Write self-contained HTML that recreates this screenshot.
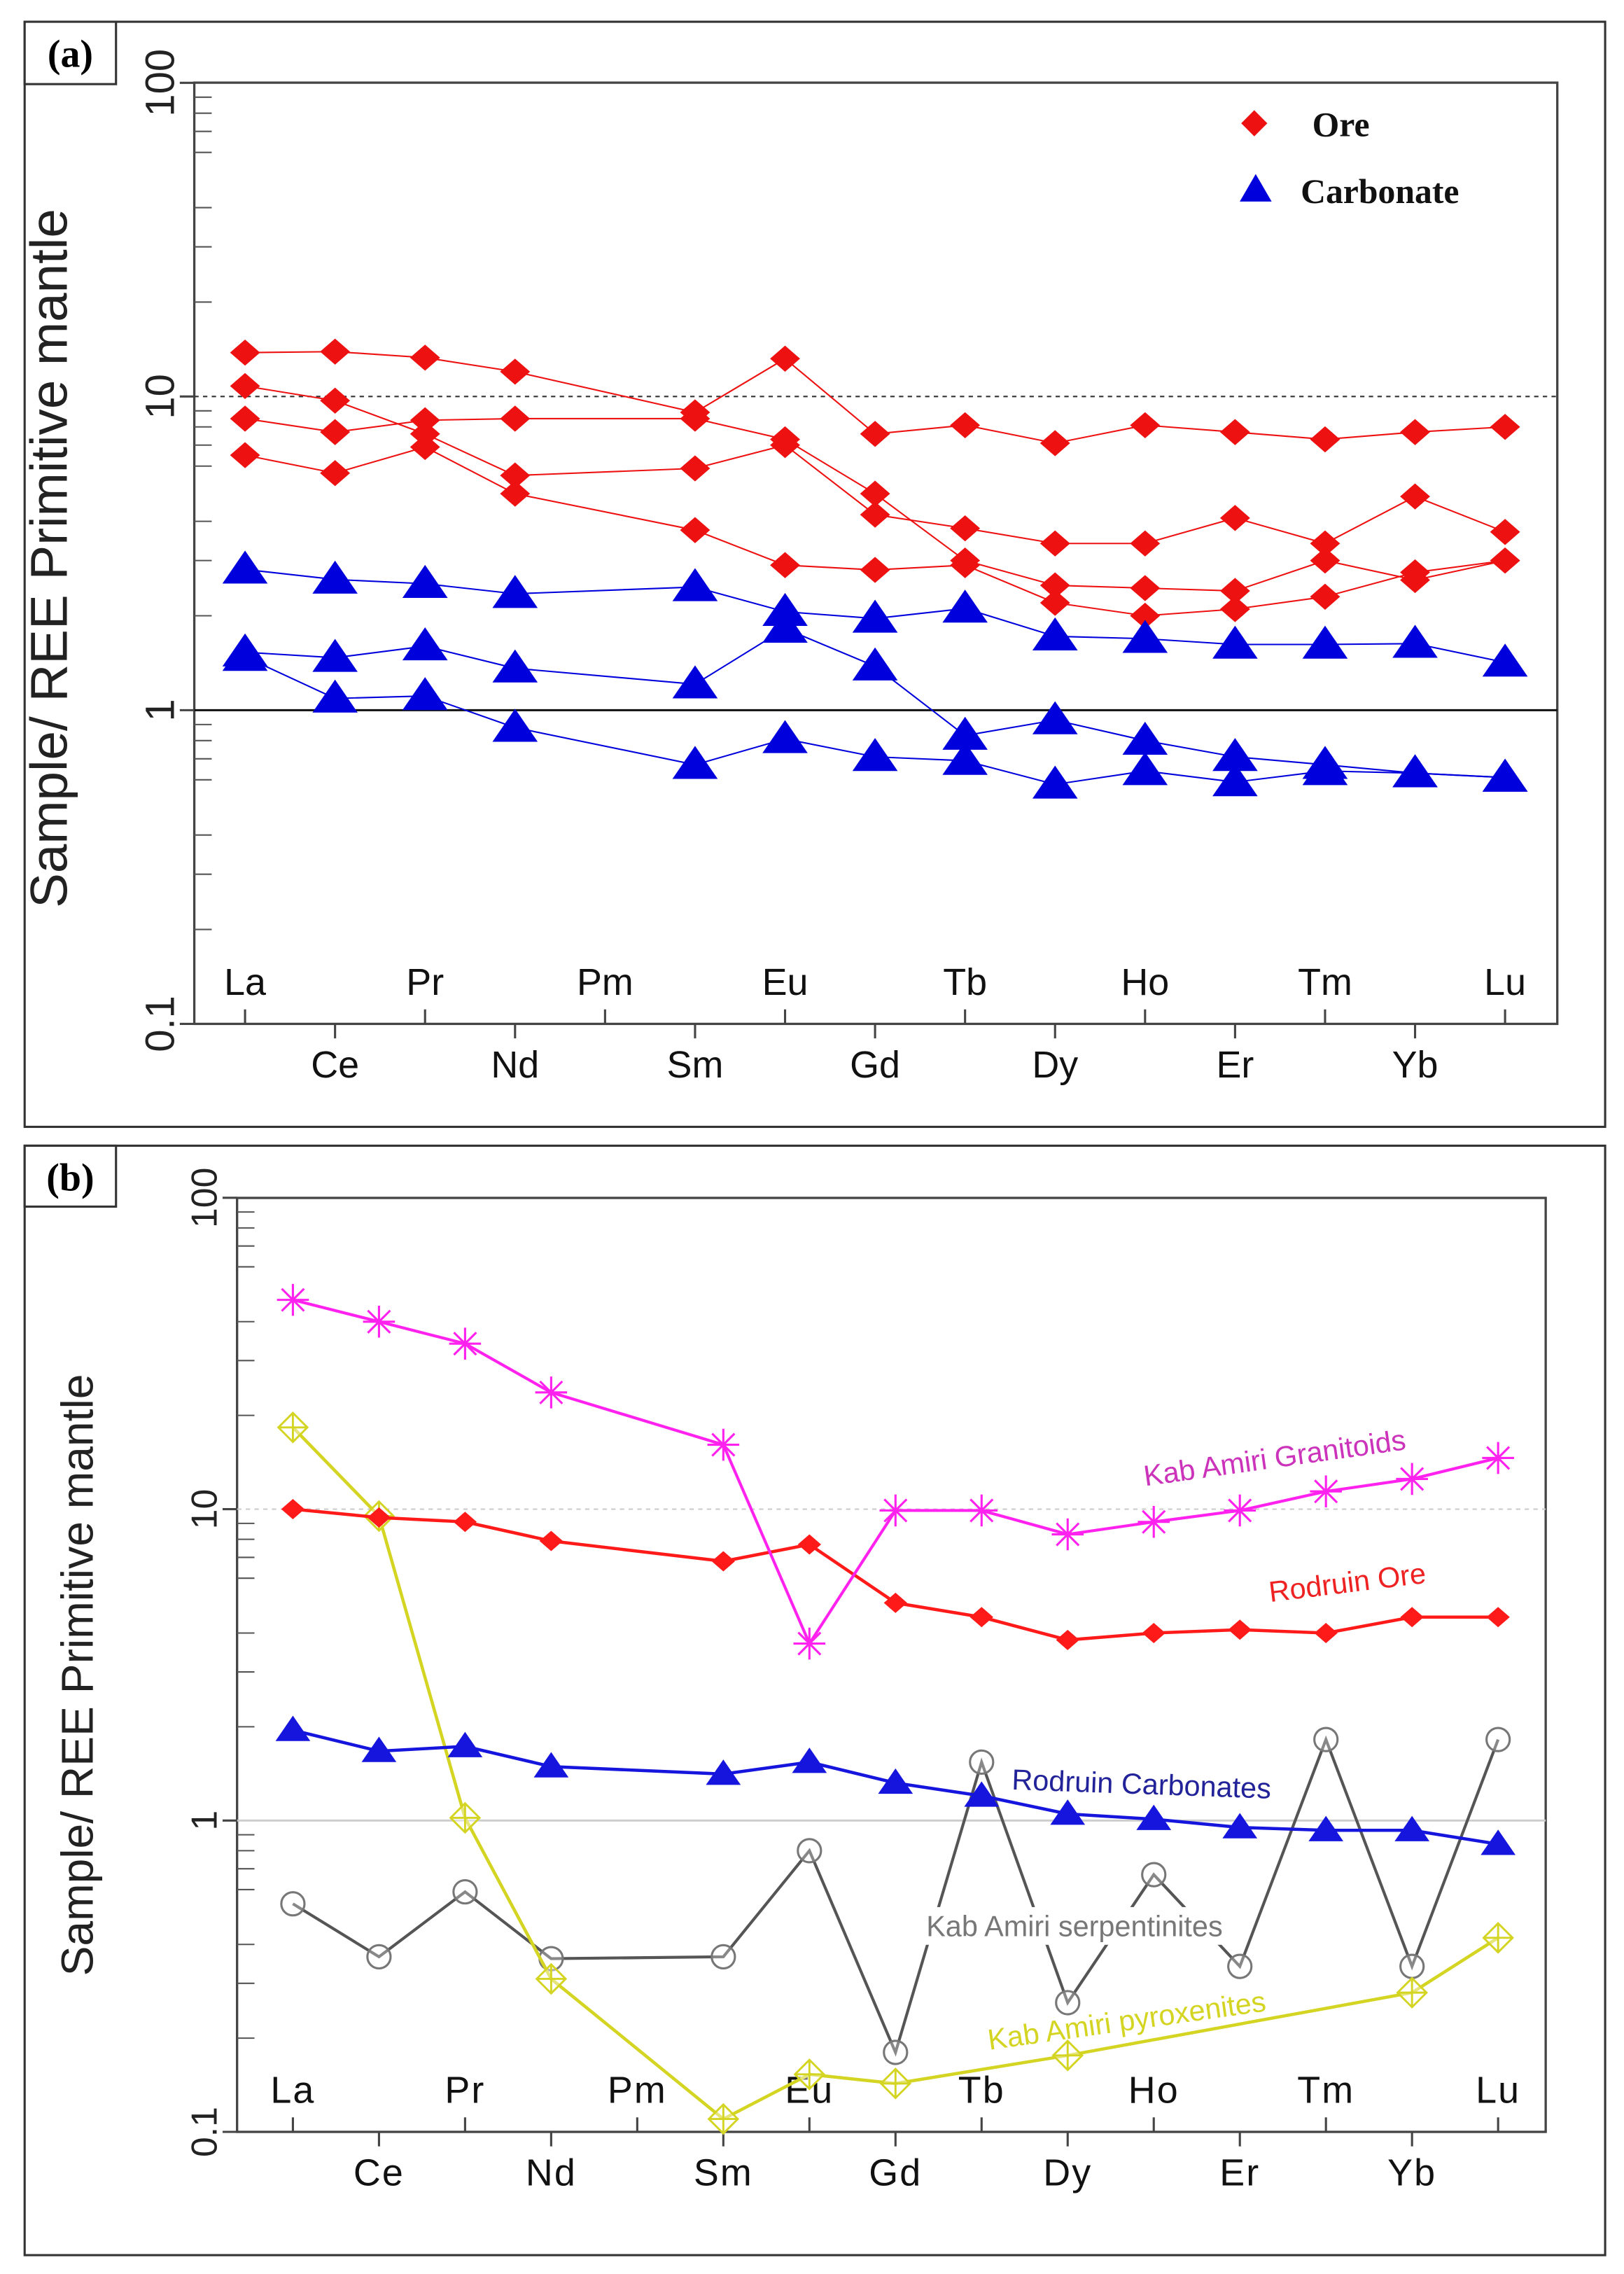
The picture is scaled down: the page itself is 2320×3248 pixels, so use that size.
<!DOCTYPE html>
<html><head><meta charset="utf-8">
<style>
html,body{margin:0;padding:0;background:#fff;}
svg{display:block;}
text{font-family:"Liberation Sans",sans-serif;}
.ser{font-family:"Liberation Serif",serif;font-weight:bold;}
</style></head>
<body>
<svg id="fig" xmlns="http://www.w3.org/2000/svg" width="2320" height="3248" viewBox="0 0 1120 1568">
<rect x="0" y="0" width="1120" height="1568" fill="#fff"/>
<rect x="17" y="15" width="1090" height="762" fill="none" stroke="#333" stroke-width="1.5"/>
<rect x="17" y="15" width="63" height="43" fill="#fff" stroke="#333" stroke-width="1.5"/>
<text class="ser" x="48.5" y="46" font-size="27" text-anchor="middle">(a)</text>
<rect x="17" y="790" width="1090" height="765" fill="none" stroke="#333" stroke-width="1.5"/>
<rect x="17" y="790" width="63" height="42" fill="#fff" stroke="#333" stroke-width="1.5"/>
<text class="ser" x="48.5" y="821" font-size="27" text-anchor="middle">(b)</text>
<g id="ga"></g>
<g id="gb"></g>
</svg>
<script>
const elements = ["La","Ce","Pr","Nd","Pm","Sm","Eu","Gd","Tb","Dy","Ho","Er","Tm","Yb","Lu"];
const yTicks = [0.1, 1, 10, 100];
const yTickLabels = ["0.1","1","10","100"];
const oreA1 = [13.8,13.9,13.3,12.0,null,8.9,13.2,7.6,8.1,7.1,8.1,7.7,7.3,7.7,8.0];
const oreA2 = [8.5,7.7,8.4,8.5,null,8.5,7.3,4.9,3.0,2.5,2.45,2.4,3.0,2.6,3.0];
const oreA3 = [10.8,9.7,7.6,5.6,null,5.9,7.0,4.2,3.8,3.4,3.4,4.1,3.4,4.8,3.7];
const oreA4 = [6.5,5.7,6.9,4.9,null,3.75,2.9,2.8,2.9,2.2,2.0,2.1,2.3,2.75,3.0];
const carbA1 = [2.81,2.61,2.53,2.35,null,2.47,2.06,1.96,2.11,1.72,1.69,1.62,1.62,1.63,1.42];
const carbA2 = [1.53,1.47,1.60,1.36,null,1.21,1.82,1.38,0.83,0.93,0.80,0.71,0.67,0.63,0.61];
const carbA3 = [1.48,1.09,1.11,0.88,null,0.67,0.81,0.71,0.69,0.58,0.64,0.59,0.64,0.63,0.61];
const granitoids = [47,40,34,23.7,null,16.1,3.7,9.9,9.9,8.3,9.1,9.9,11.4,12.5,14.6];
const rodOre = [10.0,9.4,9.1,7.9,null,6.8,7.7,5.0,4.5,3.8,4.0,4.1,4.0,4.5,4.5];
const rodCarb = [1.95,1.67,1.73,1.49,null,1.41,1.54,1.32,1.20,1.05,1.01,0.95,0.93,0.93,0.84];
const serpentinites = [0.54,0.365,0.59,0.36,null,0.365,0.80,0.18,1.54,0.26,0.67,0.34,1.82,0.34,1.82];
const pyroxenites = [18.3,9.5,1.02,0.31,null,0.110,0.153,0.143,null,0.176,null,null,null,0.28,0.42];

const NS="http://www.w3.org/2000/svg";
function mk(parent,tag,attrs){const e=document.createElementNS(NS,tag);for(const k in attrs)e.setAttribute(k,attrs[k]);parent.appendChild(e);return e;}
function axes(cfg){
  const sx=i=>cfg.x0+i*cfg.dx;
  const sy=v=>cfg.yb-(Math.log10(v)+1)*cfg.dec;
  return {sx,sy};
}
function drawPanel(g,cfg){
  const {sx,sy}=axes(cfg);
  const fr=mk(g,'rect',{x:cfg.left,y:cfg.top,width:cfg.right-cfg.left,height:cfg.yb-cfg.top,fill:'none',stroke:'#444','stroke-width':1.6});
  
  
  const l10=mk(g,'line',{x1:cfg.left,x2:cfg.right,y1:sy(10),y2:sy(10),stroke:cfg.ref10,'stroke-width':1,'stroke-dasharray':'3,3'});
  
  
  const l1=mk(g,'line',{x1:cfg.left,x2:cfg.right,y1:sy(1),y2:sy(1),stroke:cfg.ref1,'stroke-width':1.4});
  
  
  yTicks.forEach((t,i)=>{
    const tk=mk(g,'line',{x1:cfg.left-10,x2:cfg.left,y1:sy(t),y2:sy(t),stroke:'#444','stroke-width':1.5});
    
    
    const y=sy(t);
    const tx=mk(g,'text',{x:cfg.left-14,y:y,'font-size':cfg.tickFs,transform:`rotate(-90 ${cfg.left-14} ${y})`,'text-anchor':'middle',fill:'#222'});
    tx.textContent=yTickLabels[i];
    
    
    if(i<yTicks.length-1){
      for(let m=2;m<=9;m++){
        const mt=mk(g,'line',{x1:cfg.left,x2:cfg.left+(m===5?0:12),y1:sy(t*m),y2:sy(t*m),stroke:'#555','stroke-width':1});
        
        
      }
    }
  });
  const ti=mk(g,'text',{x:cfg.titleX,y:cfg.titleY,'font-size':cfg.titleFs,transform:`rotate(-90 ${cfg.titleX} ${cfg.titleY})`,'text-anchor':'middle',fill:'#222'});
  ti.textContent='Sample/ REE Primitive mantle';
  
  
  elements.forEach((el,i)=>{
    const x=sx(i);const up=i%2===0;
    const tk=mk(g,'line',{x1:x,x2:x,y1:cfg.yb,y2:up?cfg.yb-10:cfg.yb+10,stroke:'#444','stroke-width':1.5});
    
    
    const tx=mk(g,'text',{x:x,y:up?cfg.yb-20:cfg.yb+37,'font-size':cfg.xFs,'text-anchor':'middle',fill:'#111','letter-spacing':cfg.ls});
    tx.textContent=el;
    
    
  });
  return {sx,sy};
}
function series(g,sc,vals,color,width,marker,size,name){
  const grp=mk(g,'g',{});
  
  
  const pts=[];vals.forEach((v,i)=>{if(v!=null)pts.push([sc.sx(i),sc.sy(v)]);});
  const pl=mk(grp,'polyline',{points:pts.map(p=>p.join(',')).join(' '),fill:'none',stroke:color,'stroke-width':width});
  
  
  pts.forEach(([x,y])=>{
    let m;const s=size;
    if(marker==='diamond') m=mk(grp,'polygon',{points:`${x},${y-s} ${x+s*1.15},${y} ${x},${y+s} ${x-s*1.15},${y}`,fill:color});
    else if(marker==='tri') m=mk(grp,'polygon',{points:`${x},${y-s} ${x+s*1.2},${y+s*0.75} ${x-s*1.2},${y+s*0.75}`,fill:color});
    else if(marker==='circle') m=mk(grp,'circle',{cx:x,cy:y,r:s,fill:'#fff','fill-opacity':0.3,stroke:'#777','stroke-width':1.5});
    else if(marker==='star'){m=mk(grp,'path',{d:`M${x-s},${y}H${x+s}M${x},${y-s}V${y+s}M${x-s*0.7},${y-s*0.7}L${x+s*0.7},${y+s*0.7}M${x-s*0.7},${y+s*0.7}L${x+s*0.7},${y-s*0.7}`,stroke:color,'stroke-width':1.5,fill:'none'});}
    else if(marker==='odiamond'){m=mk(grp,'path',{d:`M${x},${y-s}L${x+s},${y}L${x},${y+s}L${x-s},${y}Z M${x-s},${y}H${x+s}M${x},${y-s}V${y+s}`,stroke:color,'stroke-width':1.4,fill:'#fff','fill-opacity':0.4});}
    
    
  });
}

const ga=document.getElementById('ga');
const sa=drawPanel(ga,{x0:169,dx:62.07,yb:706,dec:216.3,left:134,right:1074,top:57,ref10:'#333',ref1:'#111',tickFs:28,titleX:46,titleY:385,titleFs:36,xFs:26,ls:0});
[oreA1,oreA2,oreA3,oreA4].forEach((s,i)=>series(ga,sa,s,'#ee1111',1,'diamond',9,'ore-sample-'+(i+1)));
[carbA1,carbA2,carbA3].forEach((s,i)=>series(ga,sa,s,'#0000dd',1,'tri',13,'carbonate-sample-'+(i+1)));
const lg=mk(ga,'g',{});


const ld=mk(lg,'polygon',{points:'865,76 874,85 865,94 856,85',fill:'#ee1111'});


const lt1=mk(lg,'text',{x:905,y:94,'font-size':24,class:'ser',fill:'#111'});lt1.textContent='Ore';


const lt=mk(lg,'polygon',{points:'866,120 877,139 855,139',fill:'#0000dd'});


const lt2=mk(lg,'text',{x:897,y:140,'font-size':24,class:'ser',fill:'#111'});lt2.textContent='Carbonate';



const gb=document.getElementById('gb');
const sb=drawPanel(gb,{x0:202,dx:59.37,yb:1470,dec:214.7,left:163.5,right:1066,top:826,ref10:'#ccc',ref1:'#ccc',tickFs:25,titleX:64,titleY:1155,titleFs:31,xFs:26,ls:1});
series(gb,sb,serpentinites,'#555',2,'circle',8,'kab-amiri-serpentinites');
series(gb,sb,pyroxenites,'#d4d422',2.2,'odiamond',10,'kab-amiri-pyroxenites');
series(gb,sb,rodCarb,'#1515dd',2.2,'tri',10,'rodruin-carbonates');
series(gb,sb,rodOre,'#ff1a1a',2.2,'diamond',7,'rodruin-ore');
series(gb,sb,granitoids,'#ff22ee',2,'star',11,'kab-amiri-granitoids');
function lab(txt,x,y,rot,color,name,bg){
  if(bg){const r=mk(gb,'rect',{x:x-110,y:y-20,width:220,height:26,fill:'#fff'});}
  const t=mk(gb,'text',{x:x,y:y,'font-size':20,'text-anchor':'middle',fill:color,transform:`rotate(${rot} ${x} ${y})`});
  t.textContent=txt;
  
  
}
lab('Kab Amiri Granitoids',880,1012,-8,'#cc33bb','granitoids-label');
lab('Rodruin Ore',930,1098,-7,'#ee2222','rodruin-ore-label');
lab('Rodruin Carbonates',787,1237,2,'#222299','rodruin-carbonates-label');
lab('Kab Amiri serpentinites',741,1335,0,'#777','serpentinites-label',true);
lab('Kab Amiri pyroxenites',778,1400,-8,'#d4d422','pyroxenites-label');
</script>
</body></html>
